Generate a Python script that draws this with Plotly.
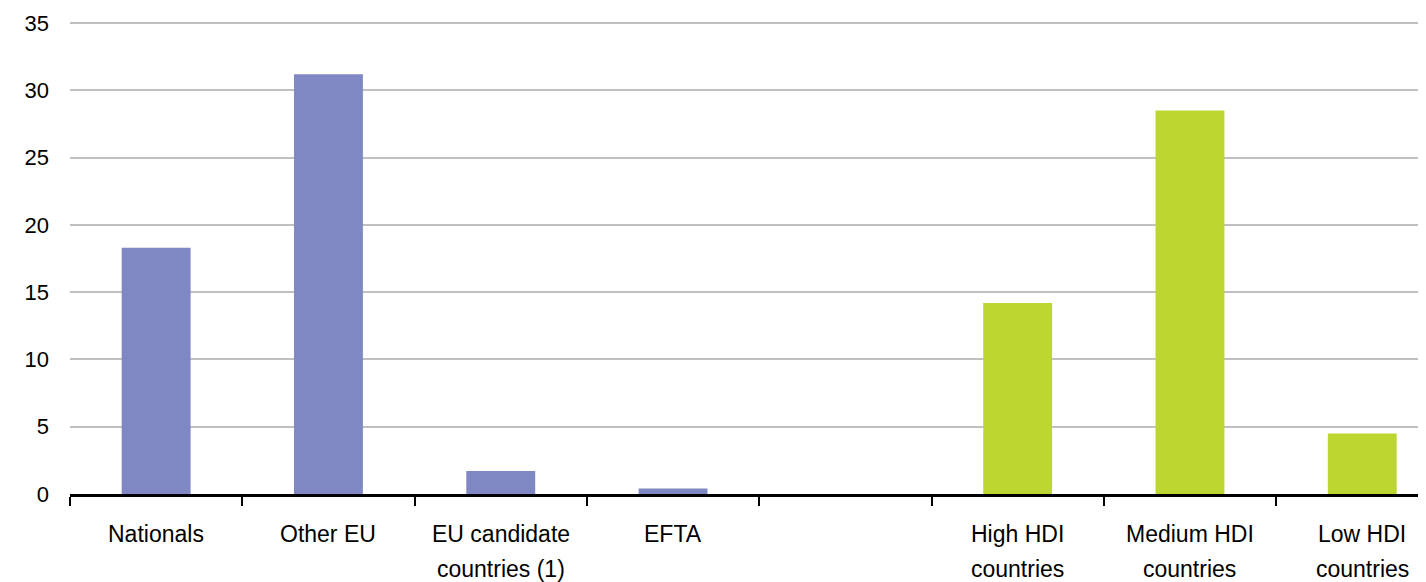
import plotly.graph_objects as go

categories = ["Nationals", "Other EU", "EU candidate countries (1)", "EFTA", " ",
              "High HDI countries", "Medium HDI countries", "Low HDI countries"]
label_line1 = ["Nationals", "Other EU", "EU candidate", "EFTA", "",
               "High HDI", "Medium HDI", "Low HDI"]
label_line2 = ["", "", "countries (1)", "", "", "countries", "countries", "countries"]
values = [18.3, 31.2, 1.7, 0.4, None, 14.2, 28.5, 4.5]
colors = ["#7f88c2", "#7f88c2", "#7f88c2", "#7f88c2", "#7f88c2",
          "#bed630", "#bed630", "#bed630"]
y_ticks = [0, 5, 10, 15, 20, 25, 30, 35]

FONT = "Liberation Sans, Arial, sans-serif"

fig = go.Figure()
fig.add_trace(go.Bar(x=categories, y=values, marker=dict(color=colors, line=dict(width=0)),
                     width=0.4, hoverinfo="x+y"))

for cat, l1, l2 in zip(categories, label_line1, label_line2):
    if l1:
        fig.add_annotation(x=cat, y=0, xref="x", yref="paper", text=l1, showarrow=False,
                           yanchor="middle", yshift=-40, font=dict(size=23, color="black", family=FONT))
    if l2:
        fig.add_annotation(x=cat, y=0, xref="x", yref="paper", text=l2, showarrow=False,
                           yanchor="middle", yshift=-75, font=dict(size=23, color="black", family=FONT))

fig.update_layout(
    width=1418, height=574,
    margin=dict(l=62, r=0, t=11, b=88),
    paper_bgcolor="white", plot_bgcolor="white",
    showlegend=False,
    font=dict(family=FONT, size=22, color="black"),
    xaxis=dict(
        type="category", categoryorder="array", categoryarray=categories,
        range=[-0.5, 7.37],
        showticklabels=False, tickson="boundaries", ticks="outside", ticklen=9,
        tickwidth=2, tickcolor="black",
        showline=True, linecolor="black", linewidth=3,
        showgrid=False, zeroline=False,
    ),
    yaxis=dict(
        range=[0, 35.3], tickvals=y_ticks, ticktext=[str(v) for v in y_ticks],
        showgrid=True, gridcolor="#c0c0c0", gridwidth=2,
        zeroline=False, showline=False, ticks="",
        ticklabelstandoff=20,
        tickfont=dict(size=22, color="black", family=FONT),
    ),
)

fig.write_html("out.html")
